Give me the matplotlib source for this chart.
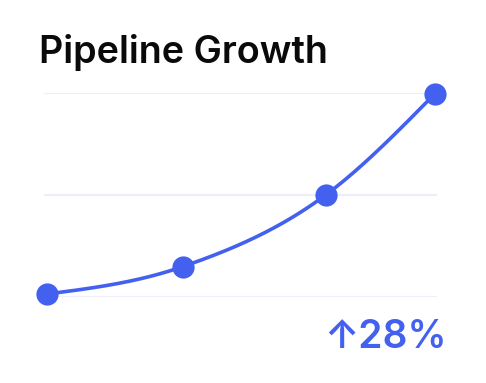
import numpy as np
import matplotlib
matplotlib.use("Agg")
import matplotlib.pyplot as plt

# Data
title = "Pipeline Growth"
x_vals = [0, 35, 72, 100]
y_vals = [1.3, 14.7, 50, 99.4]
grid_ticks = [0, 50, 100]
change_label = "↑28%"

BLUE = "#4361EE"
GRID = "#ECEFFA"

W, H = 486, 383
fig = plt.figure(figsize=(W / 100, H / 100), dpi=100)
fig.patch.set_facecolor("white")

# axes placed in pixel coords
left_px, right_px = 44, 437
top_px, bot_px = 92.7, 296.7
ax = fig.add_axes([left_px / W, 1 - bot_px / H, (right_px - left_px) / W, (bot_px - top_px) / H])
ax.set_facecolor("none")
px_per_x = (434.7 - 46.7) / 100
ax.set_xlim((left_px - 46.7) / px_per_x, (right_px - 46.7) / px_per_x)
ax.set_ylim(0, 100)


def monotone_x(xs, ys, n=60):
    xs = np.asarray(xs, float)
    ys = np.asarray(ys, float)
    h = np.diff(xs)
    s = np.diff(ys) / h
    m = len(xs)
    t = np.zeros(m)
    for i in range(1, m - 1):
        p = (s[i - 1] * h[i] + s[i] * h[i - 1]) / (h[i - 1] + h[i])
        t[i] = (np.sign(s[i - 1]) + np.sign(s[i])) * min(abs(s[i - 1]), abs(s[i]), 0.5 * abs(p))
    t[0] = (3 * s[0] - t[1]) / 2
    t[-1] = (3 * s[-1] - t[-2]) / 2
    X, Y = [], []
    u = np.linspace(0, 1, n)
    for i in range(m - 1):
        x0, x1, y0, y1 = xs[i], xs[i + 1], ys[i], ys[i + 1]
        dx = x1 - x0
        cx = [x0, x0 + dx / 3, x1 - dx / 3, x1]
        cy = [y0, y0 + dx * t[i] / 3, y1 - dx * t[i + 1] / 3, y1]
        b = [(1 - u) ** 3, 3 * u * (1 - u) ** 2, 3 * u ** 2 * (1 - u), u ** 3]
        X.append(sum(bb * c for bb, c in zip(b, cx)))
        Y.append(sum(bb * c for bb, c in zip(b, cy)))
    return np.concatenate(X), np.concatenate(Y)


cx, cy = monotone_x(x_vals, y_vals)
ax.plot(cx, cy, color=BLUE, lw=2.6, solid_capstyle="round", clip_on=False, zorder=3)
ax.plot(x_vals, y_vals, "o", color=BLUE, ms=16, mew=0, clip_on=False, zorder=4)

for g in grid_ticks:
    ax.axhline(g, color=GRID, lw=1.6, zorder=1)
for sp in ax.spines.values():
    sp.set_visible(False)
ax.set_xticks([])
ax.set_yticks([])

fig.text(39 / W, 1 - 63.3 / H, title, fontsize=27.2, fontweight="semibold",
         family=["Inter", "DejaVu Sans"], color="#0A0A0A", va="baseline", ha="left")
fig.text(447 / W, 1 - 348.3 / H, change_label, fontsize=28, fontweight="semibold",
         family=["Inter", "DejaVu Sans"], color=BLUE, va="baseline", ha="right")

fig.savefig("out.png", dpi=100, facecolor="white")
